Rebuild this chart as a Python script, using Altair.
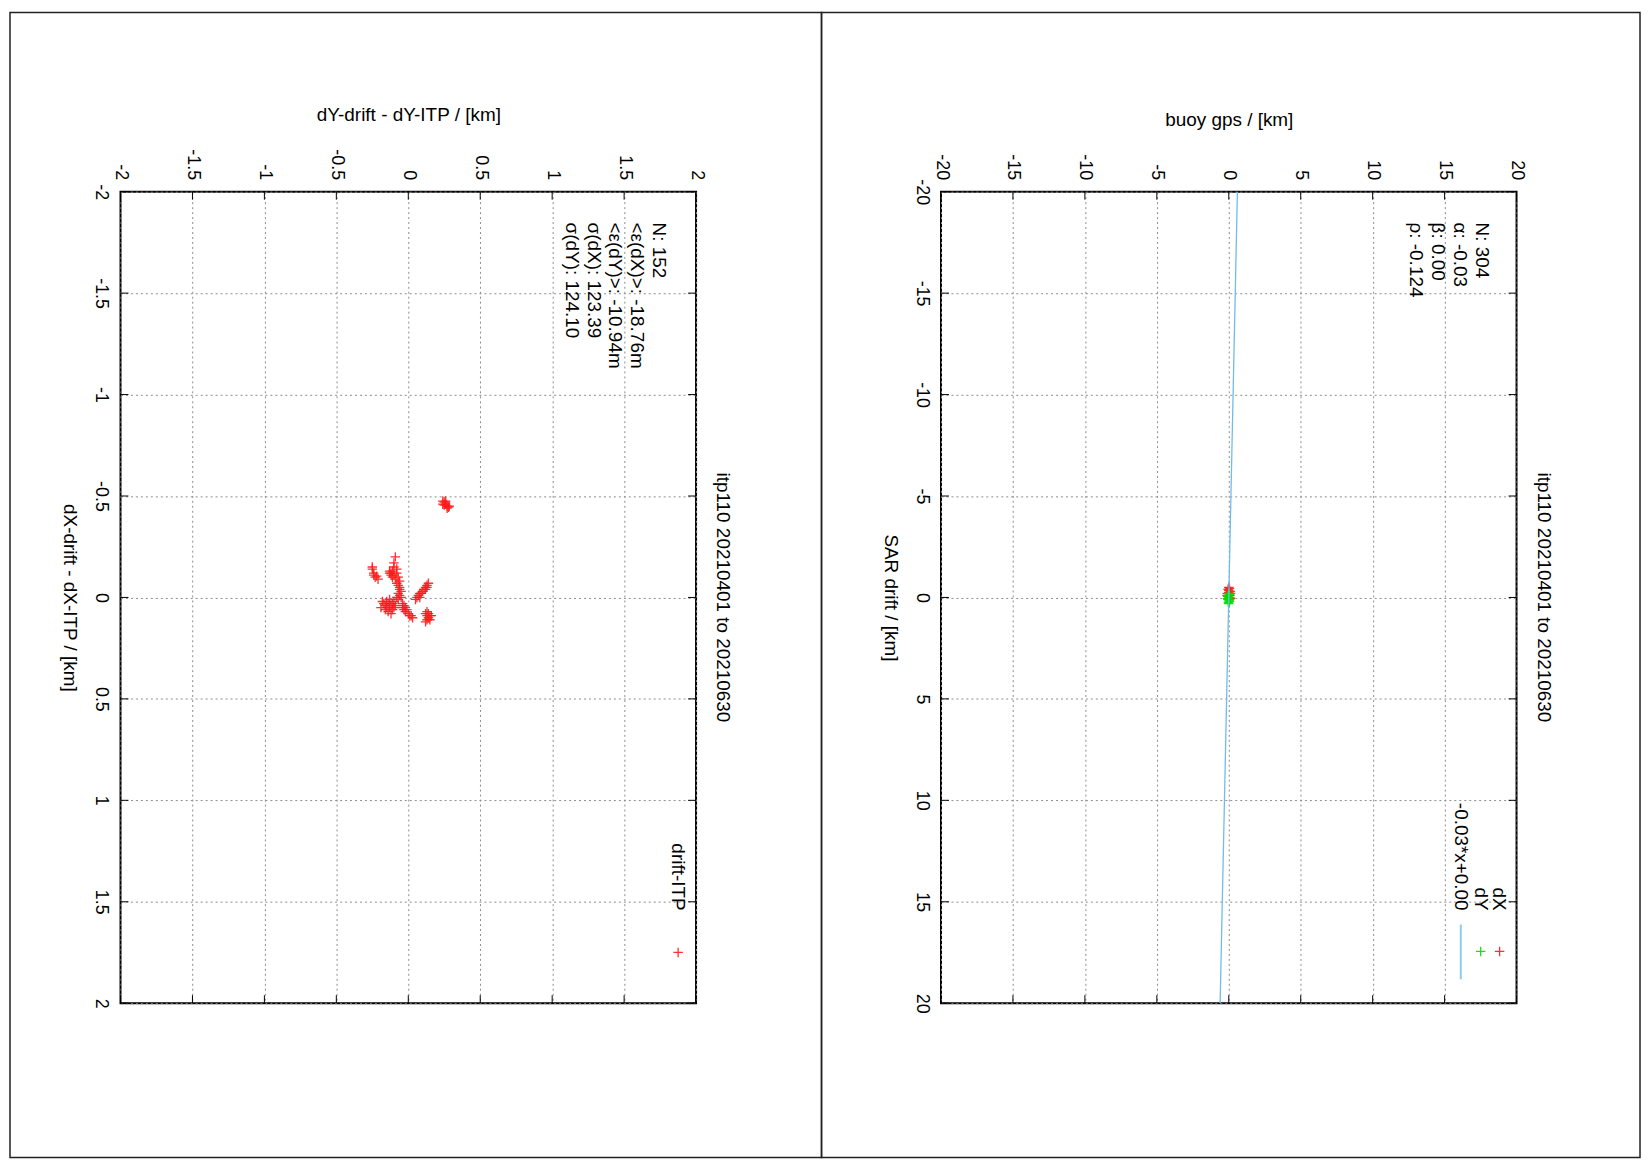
import altair as alt
import pandas as pd

# ---------------- data ----------------
# Left panel: drift - ITP errors (km)
err_dy = [0.24, 0.25, 0.26, 0.27, 0.28, 0.25, 0.24, 0.27, 0.26, 0.285,
          -0.09, -0.10, -0.10, -0.11, -0.08, -0.12,
          -0.25, -0.25, -0.24, -0.23, -0.22, -0.21, -0.24,
          -0.13, -0.12, -0.10, -0.08, -0.07, -0.09, -0.11, -0.13, -0.06, -0.07, -0.06, -0.08,
          -0.06, -0.05, -0.07, -0.06, -0.05, -0.07, -0.08,
          -0.18, -0.17, -0.16, -0.15, -0.14, -0.13, -0.12, -0.11, -0.10, -0.16, -0.14, -0.12,
          -0.19, -0.13, -0.11, -0.15, -0.10, -0.09,
          -0.04, -0.03, -0.02, -0.03, -0.01, -0.04, -0.02, 0.00, 0.02, 0.03, 0.01,
          0.06, 0.07, 0.08, 0.10, 0.11, 0.12, 0.13, 0.14, 0.13, 0.09, 0.12, 0.05, 0.08,
          0.12, 0.13, 0.14, 0.15, 0.13, 0.12, 0.14, 0.16, 0.13, 0.15]
err_dx = [-0.475, -0.47, -0.46, -0.45, -0.445, -0.455, -0.46, -0.44, -0.475, -0.45,
          -0.20, -0.17, -0.15, -0.13, -0.14, -0.12,
          -0.15, -0.14, -0.11, -0.10, -0.105, -0.09, -0.12,
          -0.13, -0.11, -0.11, -0.12, -0.10, -0.09, -0.10, -0.12, -0.08, -0.06, -0.05, -0.07,
          -0.04, -0.03, -0.02, -0.01, 0.00, 0.01, 0.00,
          0.02, 0.03, 0.04, 0.02, 0.03, 0.05, 0.04, 0.03, 0.02, 0.06, 0.07, 0.08,
          0.05, 0.01, 0.06, 0.05, 0.05, 0.04,
          0.03, 0.04, 0.05, 0.06, 0.06, 0.05, 0.07, 0.08, 0.09, 0.10, 0.09,
          0.00, -0.01, -0.02, -0.03, -0.04, -0.05, -0.06, -0.07, -0.05, -0.02, -0.04, 0.01, 0.00,
          0.08, 0.09, 0.10, 0.09, 0.11, 0.12, 0.08, 0.09, 0.07, 0.11]

# Right panel: buoy gps vs SAR drift (km)
dx_gps = [0.00, 0.05, -0.05, 0.10, -0.10, 0.00, 0.08, -0.08, 0.02, 0.10, -0.05, 0.00, 0.12, -0.12]
dx_sar = [-0.50, -0.45, -0.40, -0.30, -0.20, -0.25, -0.10, -0.05, 0.00, 0.05, 0.10, -0.35, -0.20, -0.10]
dy_gps = [0.00, 0.05, -0.05, 0.08, -0.08, 0.00, 0.05, -0.03, 0.02, 0.00, -0.06, 0.07]
dy_sar = [-0.20, -0.15, -0.10, 0.00, 0.05, 0.10, 0.20, 0.25, 0.15, 0.30, -0.05, 0.10]

fit_alpha = -0.03
fit_beta = 0.00
fit_sar = [-20, 20]

left_ticks = [-2, -1.5, -1, -0.5, 0, 0.5, 1, 1.5, 2]
right_ticks = [-20, -15, -10, -5, 0, 5, 10, 15, 20]

left_stats = ["N: 152", "<ε(dX)>: -18.76m", "<ε(dY)>: -10.94m", "σ(dX):  123.39", "σ(dY):  124.10"]
right_stats = ["N: 304", "α: -0.03", "β: 0.00", "ρ: -0.124"]
plot_title = "itp110 20210401 to 20210630"

# ---------------- style ----------------
W, H = 578, 815
FONT = "Liberation Sans"
TICK_FS = 18
TEXT_FS = 19
PLUS = "M-1,0L1,0M0,-1L0,1"
RED = "#ff1a1a"
GREEN = "#00dd00"
BLUE = "#70bde8"
GRID = "#8c8c8c"
one = pd.DataFrame({"a": [0]})


def x_axis(title, vals, title_y):
    return alt.Axis(orient="top", values=vals, title=title,
                    labelExpr="'' + datum.value",
                    labelAngle=90, labelAlign="right", labelBaseline="middle",
                    labelPadding=12, labelFontSize=TICK_FS, labelFont=FONT, labelColor="black",
                    labelOverlap=False, labelFlush=False,
                    ticks=False, domain=False,
                    grid=True, gridColor=GRID, gridDash=[2, 3], gridWidth=1,
                    titleFont=FONT, titleFontSize=TEXT_FS, titleFontWeight="normal", titleColor="black",
                    titleAngle=0, titleX=W / 2, titleY=title_y, titleAlign="center", titleBaseline="middle")


def y_axis(title, vals):
    return alt.Axis(orient="left", values=vals, title=title,
                    labelExpr="'' + datum.value",
                    labelAngle=90, labelAlign="center", labelBaseline="top",
                    labelPadding=11, labelFontSize=TICK_FS, labelFont=FONT, labelColor="black",
                    labelOverlap=False, labelFlush=False,
                    ticks=False, domain=False,
                    grid=True, gridColor=GRID, gridDash=[2, 3], gridWidth=1,
                    titleFont=FONT, titleFontSize=TEXT_FS, titleFontWeight="normal", titleColor="black",
                    titleAngle=90, titleX=-51, titleY=H / 2, titleAlign="center", titleBaseline="middle")


def inner_ticks(xt, yt, xe, ye):
    xdf = pd.DataFrame({"x": xt})
    ydf = pd.DataFrame({"y": yt})
    r = dict(color="black", strokeWidth=1)
    return [
        alt.Chart(xdf).mark_rule(**r).encode(x=xe, y=alt.value(0), y2=alt.value(8)),
        alt.Chart(xdf).mark_rule(**r).encode(x=xe, y=alt.value(H - 8), y2=alt.value(H)),
        alt.Chart(ydf).mark_rule(**r).encode(y=ye, x=alt.value(0), x2=alt.value(8)),
        alt.Chart(ydf).mark_rule(**r).encode(y=ye, x=alt.value(W - 8), x2=alt.value(W)),
    ]


def rot_text(txt, x, y, align="left", size=TEXT_FS):
    return alt.Chart(one).mark_text(angle=90, align=align, baseline="middle", font=FONT,
                                    fontSize=size, color="black").encode(
        x=alt.value(x), y=alt.value(y), text=alt.value(txt))


def frame(x1, x2, y1, y2):
    return alt.Chart(one).mark_rect(filled=False, stroke="#222222", strokeWidth=1.5).encode(
        x=alt.value(x1), x2=alt.value(x2), y=alt.value(y1), y2=alt.value(y2))


def plus(color):
    return dict(shape=PLUS, filled=False, size=90, strokeWidth=1.3, color=color, opacity=0.9)


# ---------------- left panel ----------------
ls_x = alt.Scale(domain=[-2, 2], nice=False, zero=False)
ls_y = alt.Scale(domain=[-2, 2], nice=False, zero=False, reverse=True)
lx = alt.X("x:Q", scale=ls_x, axis=x_axis("dY-drift - dY-ITP / [km]", left_ticks, -77))
ly = alt.Y("y:Q", scale=ls_y, axis=y_axis("dX-drift - dX-ITP / [km]", left_ticks))
left_df = pd.DataFrame({"x": err_dy, "y": err_dx})

left_pts = alt.Chart(left_df).mark_point(**plus(RED)).encode(x=lx, y=ly)

left_layers = [left_pts] + inner_ticks(left_ticks, left_ticks, lx, ly) + [frame(-111, 704, -180, 970)]
for i, s in enumerate(left_stats):
    left_layers.append(rot_text(s, 541 - 22 * i, 31))
left_layers.append(rot_text(plot_title, W + 27, H / 2, align="center"))
left_layers.append(rot_text("drift-ITP", 560, 722, align="right"))
left_layers.append(alt.Chart(one).mark_point(**plus(RED)).encode(x=alt.value(560), y=alt.value(764)))

left = alt.layer(*left_layers).properties(width=W, height=H)

# ---------------- right panel ----------------
rs_x = alt.Scale(domain=[-20, 20], nice=False, zero=False)
rs_y = alt.Scale(domain=[-20, 20], nice=False, zero=False, reverse=True)
rx = alt.X("x:Q", scale=rs_x, axis=x_axis("buoy gps / [km]", right_ticks, -72))
ry = alt.Y("y:Q", scale=rs_y, axis=y_axis("SAR drift / [km]", right_ticks))
dx_df = pd.DataFrame({"x": dx_gps, "y": dx_sar})
dy_df = pd.DataFrame({"x": dy_gps, "y": dy_sar})
fit_df = pd.DataFrame({"y": fit_sar, "x": [fit_alpha * s + fit_beta for s in fit_sar]})

r_dx = alt.Chart(dx_df).mark_point(**plus(RED)).encode(x=rx, y=ry)
r_dy = alt.Chart(dy_df).mark_point(**plus(GREEN)).encode(x=rx, y=ry)
r_fit = alt.Chart(fit_df).mark_line(color=BLUE, strokeWidth=1.3).encode(x=rx, y=ry, order=alt.Order("y:Q"))

right_layers = [r_dx, r_dy, r_fit] + inner_ticks(right_ticks, right_ticks, rx, ry) + [frame(-120, 702, -180, 970)]
for i, s in enumerate(right_stats):
    right_layers.append(rot_text(s, 543 - 22 * i, 31))
right_layers.append(rot_text(plot_title, W + 28, H / 2, align="center"))
right_layers.append(rot_text("dX", 560, 722, align="right"))
right_layers.append(rot_text("dY", 542, 722, align="right"))
right_layers.append(rot_text("-0.03*x+0.00", 522, 722, align="right"))
right_layers.append(alt.Chart(one).mark_point(**plus(RED)).encode(x=alt.value(561), y=alt.value(763)))
right_layers.append(alt.Chart(one).mark_point(**plus(GREEN)).encode(x=alt.value(542), y=alt.value(763)))
right_layers.append(alt.Chart(one).mark_rule(color=BLUE, strokeWidth=2, opacity=0.8).encode(
    x=alt.value(522), y=alt.value(736), y2=alt.value(791)))

right = alt.layer(*right_layers).properties(width=W, height=H)

chart = alt.hconcat(left, right, spacing=246, bounds="flush").properties(
    padding=0, background="white"
).configure_view(stroke="black", strokeWidth=2)

chart.save("out.html", embed_options={"renderer": "svg", "actions": False})
